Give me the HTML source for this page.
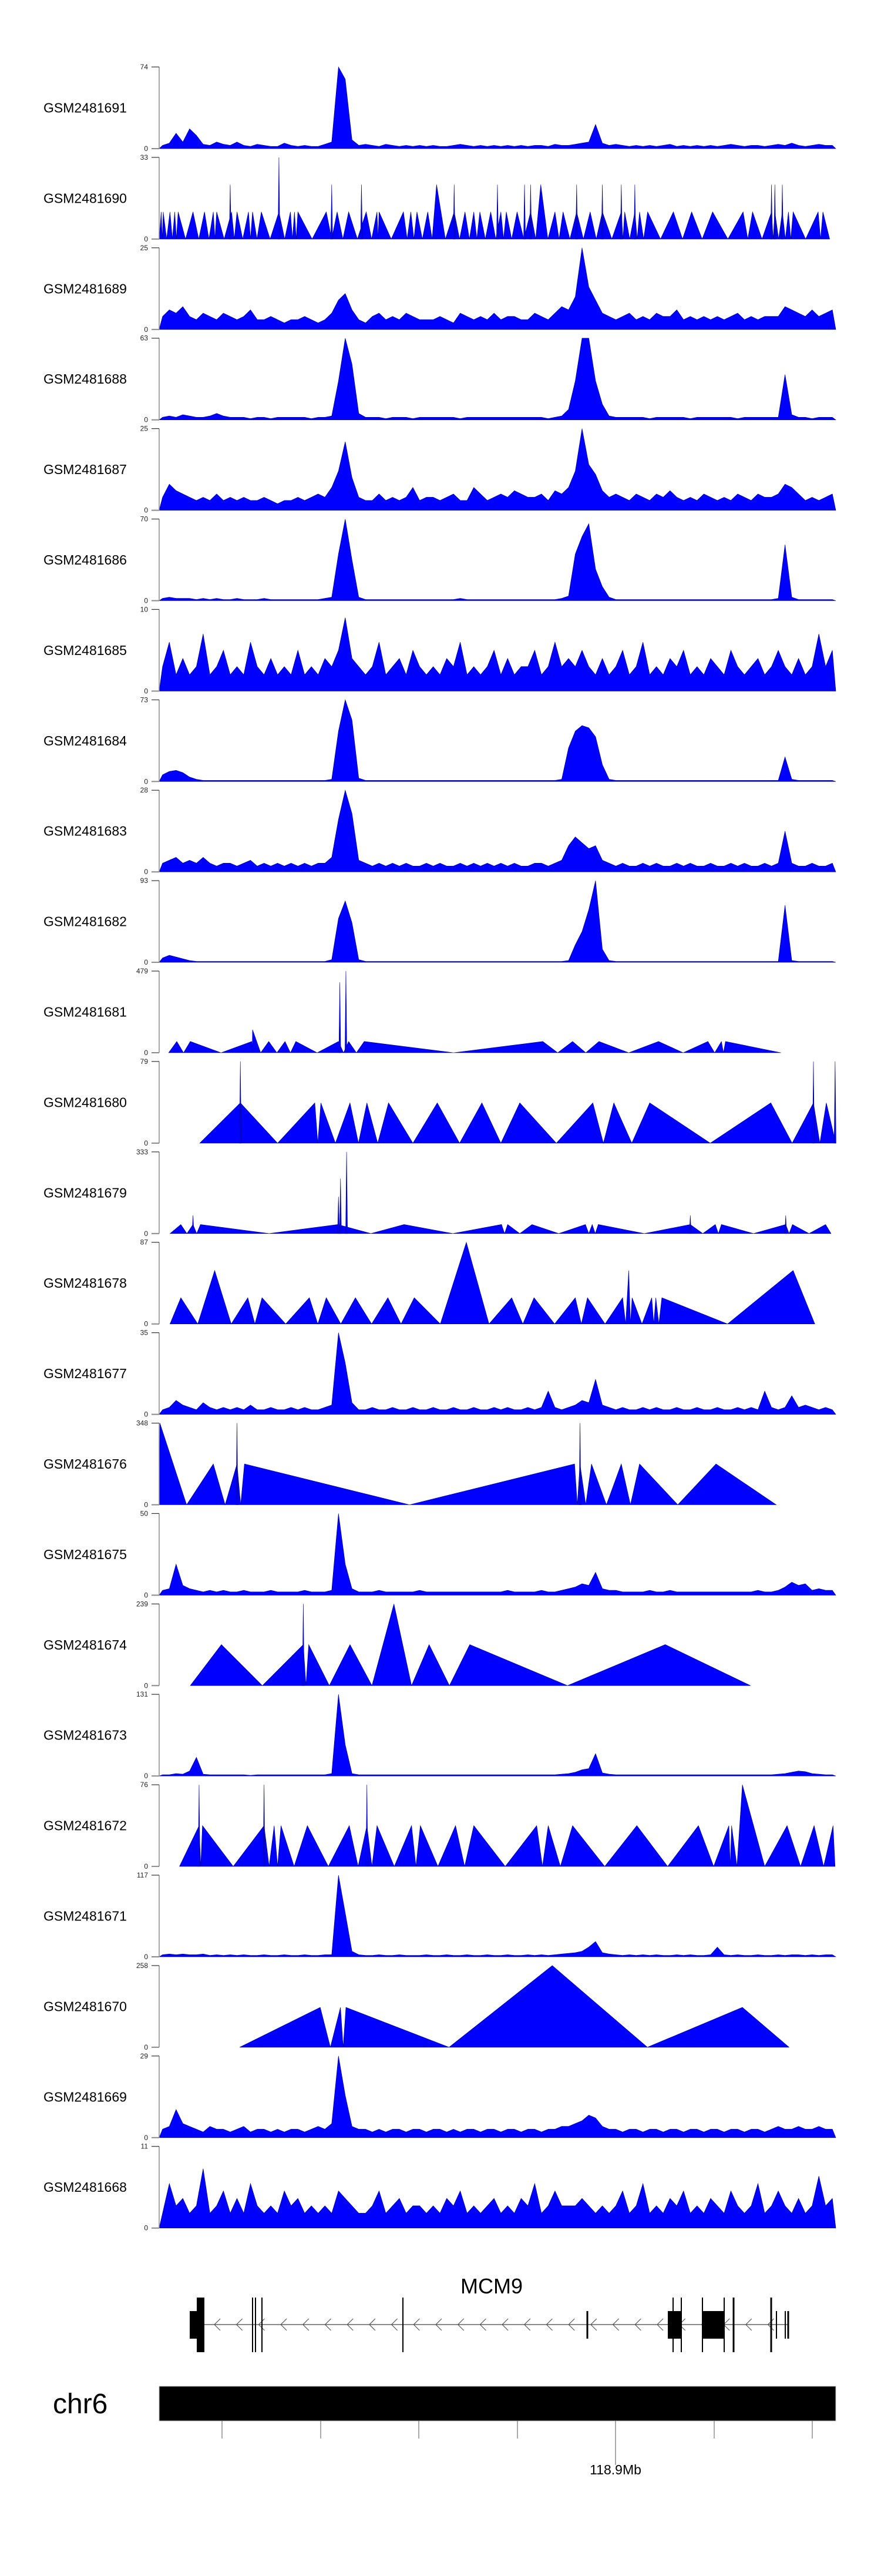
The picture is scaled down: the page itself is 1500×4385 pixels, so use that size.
<!DOCTYPE html>
<html><head><meta charset="utf-8">
<style>
html,body{margin:0;padding:0;background:#fff;}
body{width:1500px;height:4380px;overflow:hidden;font-family:"Liberation Sans",Arial,sans-serif;}
svg text{font-family:"Liberation Sans",Arial,sans-serif;}
</style></head>
<body>
<svg id="chart" xmlns="http://www.w3.org/2000/svg" width="1500" height="4380" viewBox="0 0 1500 4380"></svg>
<script>
// ---------- data ----------
const trackNames = ["GSM2481691","GSM2481690","GSM2481689","GSM2481688","GSM2481687","GSM2481686","GSM2481685","GSM2481684","GSM2481683","GSM2481682","GSM2481681","GSM2481680","GSM2481679","GSM2481678","GSM2481677","GSM2481676","GSM2481675","GSM2481674","GSM2481673","GSM2481672","GSM2481671","GSM2481670","GSM2481669","GSM2481668"];
const trackMax = [74,33,25,63,25,70,10,73,28,93,479,79,333,87,35,348,50,239,131,76,117,258,29,11];

// noisy coverage tracks: 100 bins across region
const cov691 = [3,5,14,6,18,12,4,3,6,4, 3,6,3,2,4,3,2,2,5,3, 2,3,2,2,4,6,74,63,8,3, 4,3,2,4,3,2,3,2,3,2, 3,2,2,3,4,3,2,3,2,3, 2,3,2,3,2,3,3,2,4,3, 3,4,5,6,22,5,3,4,3,2, 3,2,3,2,3,4,2,3,2,3, 2,3,2,3,4,3,2,3,3,2, 3,4,3,5,3,2,3,4,3,3];
const cov689 = [4,6,5,7,4,3,5,4,3,5, 4,3,4,6,3,3,4,3,2,3, 3,4,3,2,3,5,9,11,6,3, 2,4,5,3,4,3,5,4,3,3, 3,4,3,2,5,4,3,4,3,5, 3,4,4,3,3,5,4,3,5,7, 6,10,25,13,9,5,4,3,4,5, 3,4,3,5,4,4,6,3,4,3, 4,3,4,3,4,5,3,4,3,4, 4,4,7,6,5,4,6,4,5,6];
const cov688 = [2,3,2,4,3,2,2,3,5,3, 2,2,2,1,2,2,1,2,2,2, 2,2,1,2,2,3,30,63,43,5, 2,2,2,1,2,2,2,1,2,2, 2,2,2,2,1,2,2,2,2,2, 2,2,2,2,2,2,2,1,2,3, 8,30,63,63,30,12,3,2,2,2, 2,2,1,2,2,2,2,2,1,2, 2,2,2,2,2,1,2,2,2,2, 2,2,35,4,2,2,1,2,2,2];
const cov687 = [4,8,6,5,4,3,4,3,5,3, 4,3,4,3,3,4,3,2,3,3, 4,3,4,5,4,7,12,21,10,4, 3,3,5,3,4,3,4,7,3,4, 4,3,4,5,3,3,7,5,3,4, 5,4,6,5,4,4,5,3,6,5, 7,12,25,14,11,6,4,5,4,3, 5,4,3,5,4,6,4,3,4,3, 5,4,3,4,3,5,4,3,5,4, 4,5,8,7,5,3,4,3,4,5];
const cov686 = [2,3,2,2,2,1,2,1,2,1, 1,2,1,1,1,2,1,1,1,1, 1,1,1,1,2,3,40,70,35,3, 1,1,1,1,1,1,1,1,1,1, 1,1,1,1,2,1,1,1,1,1, 1,1,1,1,1,1,1,1,1,2, 4,40,55,66,27,12,3,1,1,1, 1,1,1,1,1,1,1,1,1,1, 1,1,1,1,1,1,1,1,1,1, 1,2,48,3,1,1,1,1,1,1];
const cov685 = [3,6,2,4,2,3,7,2,3,5, 2,3,2,6,3,2,4,2,3,2, 5,2,3,2,4,3,5,9,4,3, 2,3,6,2,3,4,2,5,3,2, 3,2,4,3,6,2,3,2,3,5, 2,4,2,3,3,5,2,3,6,3, 4,3,5,3,2,4,2,3,5,2, 3,6,2,3,2,4,3,5,2,3, 2,4,3,2,5,3,2,3,4,2, 3,5,3,2,4,2,3,7,3,5];
const cov684 = [6,9,10,8,4,2,1,1,1,1, 1,1,1,1,1,1,1,1,1,1, 1,1,1,1,1,2,45,73,55,3, 1,1,1,1,1,1,1,1,1,1, 1,1,1,1,1,1,1,1,1,1, 1,1,1,1,1,1,1,1,1,2, 30,45,50,48,40,15,2,1,1,1, 1,1,1,1,1,1,1,1,1,1, 1,1,1,1,1,1,1,1,1,1, 1,1,22,2,1,1,1,1,1,1];
const cov683 = [3,4,5,3,4,3,5,3,2,3, 3,2,3,4,2,3,2,3,2,3, 2,3,2,3,3,5,18,28,20,4, 3,2,3,2,3,2,3,2,2,3, 2,3,2,2,3,2,3,2,3,2, 3,2,3,2,2,3,3,2,3,4, 9,12,10,8,9,4,3,2,3,2, 2,3,2,3,2,2,3,2,3,2, 2,3,2,2,3,2,3,2,2,3, 2,3,14,3,2,2,3,2,2,3];
const cov682 = [5,8,6,4,2,1,1,1,1,1, 1,1,1,1,1,1,1,1,1,1, 1,1,1,1,1,3,50,70,45,3, 1,1,1,1,1,1,1,1,1,1, 1,1,1,1,1,1,1,1,1,1, 1,1,1,1,1,1,1,1,1,1, 2,20,35,60,93,15,2,1,1,1, 1,1,1,1,1,1,1,1,1,1, 1,1,1,1,1,1,1,1,1,1, 1,1,65,2,1,1,1,1,1,1];
const cov677 = [2,3,6,4,3,2,5,3,2,3, 2,3,2,4,2,2,3,2,2,3, 2,3,2,2,3,4,35,22,5,2, 2,3,2,2,3,2,2,3,2,2, 3,2,2,3,2,2,3,2,2,3, 2,3,2,2,3,2,3,10,3,2, 3,4,6,5,15,4,3,2,3,2, 2,3,2,3,2,2,3,2,2,3, 2,2,3,2,2,3,2,3,2,10, 3,2,3,8,3,4,3,2,3,2];
const cov675 = [3,4,19,6,4,3,2,3,2,3, 2,2,3,2,2,2,3,2,2,2, 2,3,2,2,2,3,50,19,4,2, 2,2,3,2,2,2,2,2,3,2, 2,2,2,2,2,2,2,2,2,2, 2,3,2,2,2,2,3,2,2,3, 4,5,7,6,14,4,3,3,2,2, 2,2,3,2,2,3,2,2,2,2, 2,2,2,2,2,2,2,2,3,2, 2,3,5,8,6,7,3,4,3,3];
const cov673 = [2,2,4,3,8,30,3,2,2,2, 2,2,2,1,2,2,2,2,2,2, 2,2,2,2,2,4,131,50,4,2, 2,2,2,2,2,2,2,2,2,2, 2,2,2,2,2,2,2,2,2,2, 2,2,2,2,2,2,2,2,2,3, 4,6,10,12,36,5,3,2,2,2, 2,2,2,2,2,2,2,2,2,2, 2,2,2,2,2,2,2,2,2,2, 2,3,4,6,8,7,4,3,2,2];
const cov671 = [3,4,3,4,3,3,4,2,3,2, 3,2,3,2,2,3,2,2,3,2, 2,3,2,2,3,3,117,63,8,3, 2,2,3,2,2,3,2,2,2,3, 2,2,3,2,2,3,2,2,3,2, 2,3,2,2,3,2,3,2,3,4, 5,6,8,14,22,6,4,3,2,3, 2,3,2,3,2,2,3,2,3,2, 2,3,14,3,2,3,2,2,3,2, 2,3,2,3,3,2,3,2,3,3];
const cov669 = [3,4,10,5,4,3,2,4,3,3, 2,3,4,2,3,3,2,3,2,3, 3,2,3,4,3,5,29,15,4,3, 3,2,3,2,3,3,2,3,3,2, 3,3,2,3,2,3,3,2,3,3, 2,3,3,2,3,3,2,3,3,4, 4,5,6,8,7,4,3,3,2,3, 3,2,3,3,2,3,3,2,3,3, 2,3,3,2,3,3,2,3,3,2, 3,4,3,3,4,3,3,4,3,3];
const cov668 = [2,6,3,4,2,3,8,2,3,5, 2,4,2,6,3,2,3,2,5,3, 4,2,3,2,3,2,5,4,3,2, 2,3,5,2,3,4,2,3,3,2, 3,2,4,3,5,2,3,2,3,4, 2,3,2,4,3,6,2,3,5,3, 3,3,4,3,2,3,2,3,5,2, 3,6,2,3,2,4,3,5,2,3, 2,4,3,2,5,3,2,3,6,2, 3,5,3,2,4,2,3,7,3,4];

// triangle (sparse) tracks: peak positions (0-1000), peak values, thin spikes, start/end
const pk690Pos = [3,6,16,23,28,50,67,80,85,107,115,132,138,151,177,194,200,205,247,263,280,306,322,325,361,372,381,397,410,436,452,465,474,490,505,513,529,549,564,585,597,617,637,655,683,688,703,710,722,760,787,818,863,877,905,910,921,930,937,974,981];
const pk690Val = [11,11,11,11,11,11,11,11,11,11,11,11,11,11,11,11,11,11,11,11,11,11,11,11,11,11,11,11,22,11,11,11,11,11,11,11,11,11,22,11,11,11,11,11,11,11,11,11,11,11,11,11,11,11,11,11,11,11,11,11,11];
const sp690Pos = [105,177,255,299,436,500,540,549,617,655,683,703,905,910,921];
const sp690Val = [22,33,22,22,22,22,22,22,22,22,22,22,22,22,22];
const rng690 = [0,991];

const pk681Pos = [26,46,137,138,162,186,202,265,280,303,567,611,650,738,811,831,837];
const pk681Val = [66,66,66,135,66,66,66,66,66,66,66,66,66,66,66,66,66];
const sp681Pos = [267,276];
const sp681Val = [413,479];
const rng681 = [14,919];

const pk680Pos = [120,230,239,282,307,339,411,477,533,641,672,725,904,967,986];
const pk680Val = [39,39,39,39,39,39,39,39,39,39,39,39,39,39,39];
const sp680Pos = [120,967,999];
const sp680Val = [79,79,79];
const rng680 = [60,1000];

const pk679Pos = [32,50,61,264,362,506,515,551,630,640,649,785,822,831,926,936,985];
const pk679Val = [37,37,37,37,37,37,37,37,37,37,37,37,37,37,37,37,37];
const sp679Pos = [50,265,268,277,785,926];
const sp679Val = [74,150,224,333,74,74];
const rng679 = [16,993];

const pk678Pos = [32,82,131,152,222,247,290,338,377,454,521,554,615,633,685,694,699,728,734,743,937];
const pk678Val = [28,57,28,28,28,28,28,28,28,87,28,28,28,28,28,57,28,28,28,28,57];
const sp678Pos = [];
const sp678Val = [];
const rng678 = [16,969];

const pk676Pos = [1,80,115,126,614,622,639,683,710,823];
const pk676Val = [348,174,174,174,174,174,174,174,174,174];
const sp676Pos = [115,622];
const sp676Val = [348,348];
const rng676 = [0,912];

const pk674Pos = [92,213,221,282,347,399,459,748];
const pk674Val = [120,120,120,120,239,120,120,120];
const sp674Pos = [213];
const sp674Val = [239];
const rng674 = [46,874];

const pk672Pos = [59,64,155,170,180,219,281,307,322,373,386,438,465,558,575,611,706,797,842,846,862,928,968,996];
const pk672Val = [38,38,38,38,38,38,38,38,38,38,38,38,38,38,38,38,38,38,38,38,76,38,38,38];
const sp672Pos = [59,155,307];
const sp672Val = [76,76,76];
const rng672 = [30,999];

const pk670Pos = [238,268,276,581,862];
const pk670Val = [126,126,126,258,126];
const sp670Pos = [];
const sp670Val = [];
const rng670 = [119,931];

// ---------- rendering ----------
const NS = "http://www.w3.org/2000/svg";
const svg = document.getElementById("chart");
const X0 = 271, X1 = 1423, TOP0 = 114, PITCH = 153.9, TH = 139;
function xScale(u){ return X0 + u/1000*(X1-X0); }
function yScale(v, max, base){ return base - Math.min(v,max)/max*TH; }
function mk(tag, attrs, parent){ const e=document.createElementNS(NS,tag); for(const k in attrs) e.setAttribute(k, attrs[k]); (parent||svg).appendChild(e); return e; }

const covMap = {691:cov691,689:cov689,688:cov688,687:cov687,686:cov686,685:cov685,684:cov684,683:cov683,682:cov682,677:cov677,675:cov675,673:cov673,671:cov671,669:cov669,668:cov668};
const triMap = {
 690:[pk690Pos,pk690Val,sp690Pos,sp690Val,rng690],
 681:[pk681Pos,pk681Val,sp681Pos,sp681Val,rng681],
 680:[pk680Pos,pk680Val,sp680Pos,sp680Val,rng680],
 679:[pk679Pos,pk679Val,sp679Pos,sp679Val,rng679],
 678:[pk678Pos,pk678Val,sp678Pos,sp678Val,rng678],
 676:[pk676Pos,pk676Val,sp676Pos,sp676Val,rng676],
 674:[pk674Pos,pk674Val,sp674Pos,sp674Val,rng674],
 672:[pk672Pos,pk672Val,sp672Pos,sp672Val,rng672],
 670:[pk670Pos,pk670Val,sp670Pos,sp670Val,rng670]
};

trackNames.forEach((name, i) => {
  const top = TOP0 + PITCH*i, base = top + TH, max = trackMax[i];
  const id = parseInt(name.slice(-3));
  const g = mk("g", {});
  
  

  const lab = mk("text", {x:74, y:top+TH/2+8, "font-size":23, fill:"#000"}, g);
  lab.textContent = name;
  
  

  const ax = mk("line", {x1:X0, y1:top, x2:X0, y2:base, stroke:"#8a8a8a", "stroke-width":1.5}, g);
  
  
  mk("line", {x1:258, y1:top, x2:X0, y2:top, stroke:"#333", "stroke-width":1.2}, g);
  mk("line", {x1:258, y1:base, x2:X0, y2:base, stroke:"#8a8a8a", "stroke-width":2}, g);
  const tMax = mk("text", {x:252, y:top+4, "font-size":12, "text-anchor":"end", fill:"#222"}, g);
  tMax.textContent = String(max);
  
  
  const tZero = mk("text", {x:252, y:base+4, "font-size":12, "text-anchor":"end", fill:"#222"}, g);
  tZero.textContent = "0";
  
  

  let pts = [];
  if (covMap[id]) {
    const arr = covMap[id];
    pts.push([xScale(0), base]);
    arr.forEach((v,k) => { pts.push([xScale(k*10+5), yScale(v,max,base)]); });
    pts.push([xScale(1000), base]);
  } else if (triMap[id]) {
    const [pp, pv, sp, sv, rng] = triMap[id];
    pts.push([xScale(rng[0]), base]);
    pp.forEach((u,k) => {
      pts.push([xScale(u), yScale(pv[k],max,base)]);
      if (k < pp.length-1) pts.push([xScale((u+pp[k+1])/2), base]);
    });
    pts.push([xScale(rng[1]), base]);
    sp.forEach((u,k) => {
      const sx = xScale(u);
      const s = mk("polygon", {points:`${sx-1.6},${base} ${sx},${yScale(sv[k],max,base)} ${sx+1.6},${base}`, fill:"#0000ff", stroke:"#00008b", "stroke-width":0.6}, g);
      
      
    });
  }
  const area = mk("polygon", {points: pts.map(p=>p[0].toFixed(1)+","+p[1].toFixed(1)).join(" "), fill:"#0000ff", stroke:"#00008b", "stroke-width":0.6}, g);
  
  
  g.insertBefore(area, g.firstChild.nextSibling);
});

// ---------- gene track ----------
const gg = mk("g", {});


const gname = mk("text", {x:837, y:3904, "font-size":36, "text-anchor":"middle", fill:"#000"}, gg);
gname.textContent = "MCM9";


mk("line", {x1:348, y1:3957, x2:1343, y2:3957, stroke:"#444", "stroke-width":1.3}, gg);
for (let cx = 365; cx < 1340; cx += 37.7) {
  const c = mk("polyline", {points:`${cx+10},${3947} ${cx},${3957} ${cx+10},${3967}`, fill:"none", stroke:"#555", "stroke-width":1.2}, gg);
  
  
}
const exonBoxes = [[323,348,'m'],[335,348,'t'],[1137,1161,'m'],[1195,1233,'m']];
exonBoxes.forEach(b => {
  const y1 = b[2]==='t'?3911:3934, y2 = b[2]==='t'?4004:3981;
  const r = mk("rect", {x:b[0], y:y1, width:b[1]-b[0], height:y2-y1, fill:"#000"}, gg);
  
  
});
const exonLines = [[430,2,'t'],[435,2,'t'],[446,2,'t'],[686,2,'t'],[1000,3,'m'],[1146,2,'t'],[1160,2,'t'],[1196,2,'t'],[1233,2,'t'],[1249,3,'t'],[1313,3,'t'],[1322,2,'m'],[1337,2,'m'],[1342,3,'m']];
exonLines.forEach(l => {
  const y1 = l[2]==='t'?3911:3934, y2 = l[2]==='t'?4004:3981;
  const r = mk("rect", {x:l[0]-l[1]/2, y:y1, width:l[1], height:y2-y1, fill:"#000"}, gg);
  
  
});

// ---------- ideogram / axis ----------
const ig = mk("g", {});


const chrL = mk("text", {x:90, y:4108, "font-size":48, fill:"#000"}, ig);
chrL.textContent = "chr6";


const bar = mk("rect", {x:271, y:4062, width:1152, height:59, fill:"#000", stroke:"#bbb", "stroke-width":1}, ig);


const tickXs = [378,546,713,881,1048,1216,1383];
tickXs.forEach(tx => {
  const t = mk("line", {x1:tx, y1:4121, x2:tx, y2: tx===1048?4196:4151, stroke:"#555", "stroke-width":1}, ig);
  
  
});
const tl = mk("text", {x:1048, y:4212, "font-size":23, "text-anchor":"middle", fill:"#000"}, ig);
tl.textContent = "118.9Mb";


</script>
</body></html>
